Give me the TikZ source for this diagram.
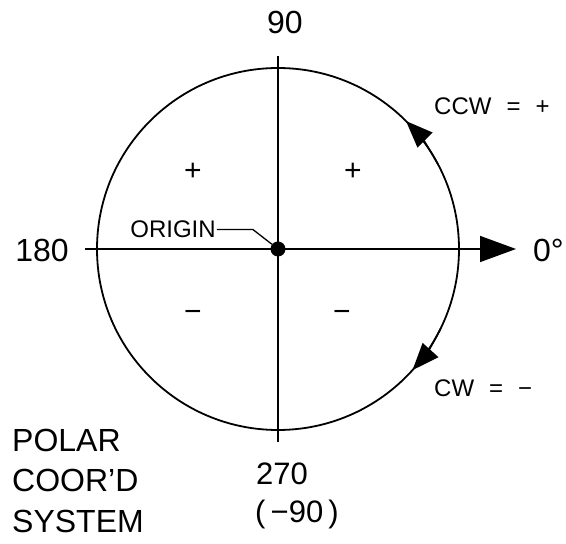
\documentclass[tikz,border=0pt]{standalone}
\usepackage{fontspec}
\setmainfont{Liberation Sans}
\usetikzlibrary{arrows.meta}

\begin{document}
\begin{tikzpicture}[x=1pt, y=1pt,
        lbl/.style={inner sep=1pt, font=\fontsize{32}{32}\selectfont},
        note/.style={inner sep=1pt, font=\fontsize{24}{24}\selectfont},
        sgn/.style={inner sep=0pt, font=\fontsize{30}{30}\selectfont},
        ax/.style={line width=1.6pt},
        rot/.style={-{Triangle[length=27pt, width=21pt]}, line width=1.6pt}
    ]
        \useasboundingbox (0,0) rectangle (566,544);
        \coordinate (o) at (278,295);
        \coordinate (w) at (85,295); \coordinate (e) at (516,295);
        \coordinate (n) at (278,488); \coordinate (s) at (278,102);
        \draw[line width=1.8pt] (o) circle[radius=181pt];
        \draw[ax] (n) -- (s);
        \draw[ax, -{Triangle[length=36pt, width=26pt]}] (w) -- (e);
        \node[circle, fill, inner sep=0pt, minimum size=15pt] (dot) at (o) {};
        \draw[rot, shift={(o)}] (28:181pt) arc[start angle=28, end angle=45, radius=181pt];
        \draw[rot, shift={(o)}] (-26:181pt) arc[start angle=-26, end angle=-42, radius=181pt];
        \node[lbl] (l90) at (285,522) {90};
        \node[lbl] (l180) at (42,294) {180};
        \node[lbl, anchor=west] (l0) at (532,294) {0°};
        \node[lbl, anchor=base, font=\fontsize{31}{31}\selectfont] (l270) at (282,59) {270};
        \node[lbl, anchor=base, font=\fontsize{31}{31}\selectfont] (lneg) at (297,21) {(\,−90\,)};
        \node[note, anchor=west] (ccw) at (433,438) {CCW\hspace{15pt}=\hspace{15pt}+};
        \node[note, anchor=west] (cw) at (433,156) {CW\hspace{15pt}=\hspace{15pt}−};
        \node[note] (org) at (173,314.5) {ORIGIN};
        \draw[line width=1.3pt] (org.east) -- ++(36,0) -- (dot);
        \node[sgn] (p1) at (193,372) {+};
        \node[sgn] (p2) at (353,372) {+};
        \node[sgn] (m1) at (193,228) {−};
        \node[sgn] (m2) at (342,228) {−};
        \node[lbl, anchor=west, align=left, font=\fontsize{32}{40.5}\selectfont] (ttl) at (11,63.5) {POLAR\\COOR'D\\SYSTEM};
\end{tikzpicture}
\end{document}
